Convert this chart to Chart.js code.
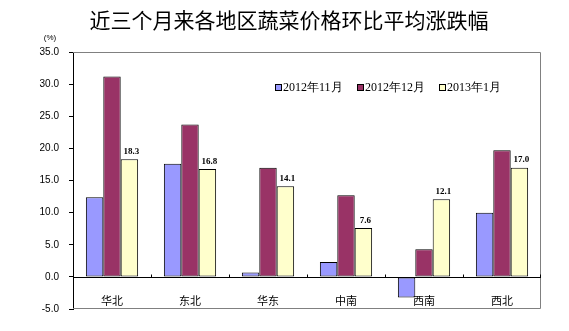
<!DOCTYPE html>
<html>
<head>
<meta charset="utf-8">
<script src="https://cdn.jsdelivr.net/npm/chart.js@4/dist/chart.umd.min.js"></script>
<style>
  html, body { margin: 0; padding: 0; background: #fff; }
  #wrap { position: relative; width: 569px; height: 331px; }
</style>
</head>
<body>
<div id="wrap"><canvas id="chart" width="569" height="331"></canvas></div>
<script>
const TITLE = "近三个月来各地区蔬菜价格环比平均涨跌幅";
const UNIT = "(%)";
const regions = ["华北", "东北", "华东", "中南", "西南", "西北"];
const seriesNames = ["2012年11月", "2012年12月", "2013年1月"];
const nov2012 = [12.4, 17.6, 0.7, 2.3, -3.2, 10.0];
const dec2012 = [31.2, 23.7, 17.0, 12.7, 4.3, 19.7];
const jan2013 = [18.3, 16.8, 14.1, 7.6, 12.1, 17.0];
const seriesColors = ["#9999ff", "#993366", "#ffffcc"];

// title, unit, zero line, category labels, inner legend, value labels
const decorPlugin = {
  id: "decor",
  afterDatasetsDraw(chart) {
    const { ctx, chartArea: a, scales } = chart;
    const x = scales.x, y = scales.y;
    ctx.save();

    // plot border (gray) except the left axis
    ctx.strokeStyle = "#808080";
    ctx.lineWidth = 1;
    ctx.beginPath();
    ctx.moveTo(a.left, a.top + 0.5);
    ctx.lineTo(a.right - 0.5, a.top + 0.5);
    ctx.lineTo(a.right - 0.5, a.bottom - 0.5);
    ctx.lineTo(a.left, a.bottom - 0.5);
    ctx.stroke();

    // zero line with category ticks
    const y0 = Math.round(y.getPixelForValue(0)) + 0.5;
    ctx.strokeStyle = "#000";
    ctx.beginPath();
    ctx.moveTo(a.left, y0);
    ctx.lineTo(a.right, y0);
    for (let i = 1; i <= regions.length; i++) {
      const bx = Math.round((x.getPixelForValue(i - 1) + x.getPixelForValue(Math.min(i, regions.length - 1))) / 2);
      const px = i === regions.length ? a.right - 0.5 : bx + 0.5;
      ctx.moveTo(px, y0);
      ctx.lineTo(px, y0 - 3);
    }
    ctx.stroke();

    // category labels near bottom
    ctx.fillStyle = "#000";
    ctx.font = "11px 'Noto Sans CJK SC'";
    ctx.textAlign = "center";
    ctx.textBaseline = "middle";
    regions.forEach((r, i) => ctx.fillText(r, x.getPixelForValue(i), 301));

    // value labels on last series
    const meta = chart.getDatasetMeta(2);
    ctx.font = "bold 9px 'Liberation Serif'";
    ctx.textBaseline = "bottom";
    meta.data.forEach((bar, i) => {
      ctx.fillText(jan2013[i].toFixed(1), bar.x + 2, bar.y - 3);
    });

    // legend inside plot area
    const legendX = [275, 357, 439];
    ctx.font = "12px 'Liberation Serif'";
    ctx.textAlign = "left";
    ctx.textBaseline = "middle";
    seriesNames.forEach((name, i) => {
      ctx.fillStyle = seriesColors[i];
      ctx.fillRect(legendX[i] + 0.5, 84.5, 6, 6);
      ctx.strokeStyle = "#000";
      ctx.strokeRect(legendX[i] + 0.5, 84.5, 6, 6);
      ctx.fillStyle = "#000";
      ctx.fillText(name, legendX[i] + 8, 88);
    });

    // title and unit
    ctx.textAlign = "center";
    ctx.font = "21px 'Noto Sans CJK SC'";
    ctx.fillText(TITLE, 289, 20);
    ctx.font = "8px 'Liberation Sans'";
    ctx.fillText(UNIT, 50, 38);
    ctx.restore();
  }
};

const datasets = [nov2012, dec2012, jan2013].map((d, i) => ({
  label: seriesNames[i],
  data: d,
  backgroundColor: seriesColors[i],
  borderColor: "#000",
  borderWidth: 1,
  borderSkipped: false,
  categoryPercentage: 0.67,
  barPercentage: 1.0,
}));

new Chart(document.getElementById("chart"), {
  type: "bar",
  data: { labels: regions, datasets },
  options: {
    responsive: false,
    animation: false,
    layout: { padding: { left: 0, top: 52, right: 28, bottom: 22 } },
    scales: {
      x: { display: false },
      y: {
        min: -5,
        max: 35,
        afterFit: (axis) => { axis.width = 73; },
        ticks: {
          stepSize: 5,
          padding: 10,
          color: "#000",
          font: { family: "Liberation Sans", size: 10 },
          callback: (v) => v.toFixed(1),
        },
        grid: { drawOnChartArea: false, drawTicks: true, tickLength: 4, color: "#000" },
        border: { color: "#000" },
      },
    },
    plugins: { legend: { display: false }, tooltip: { enabled: false } },
  },
  plugins: [decorPlugin],
});
</script>
</body>
</html>
